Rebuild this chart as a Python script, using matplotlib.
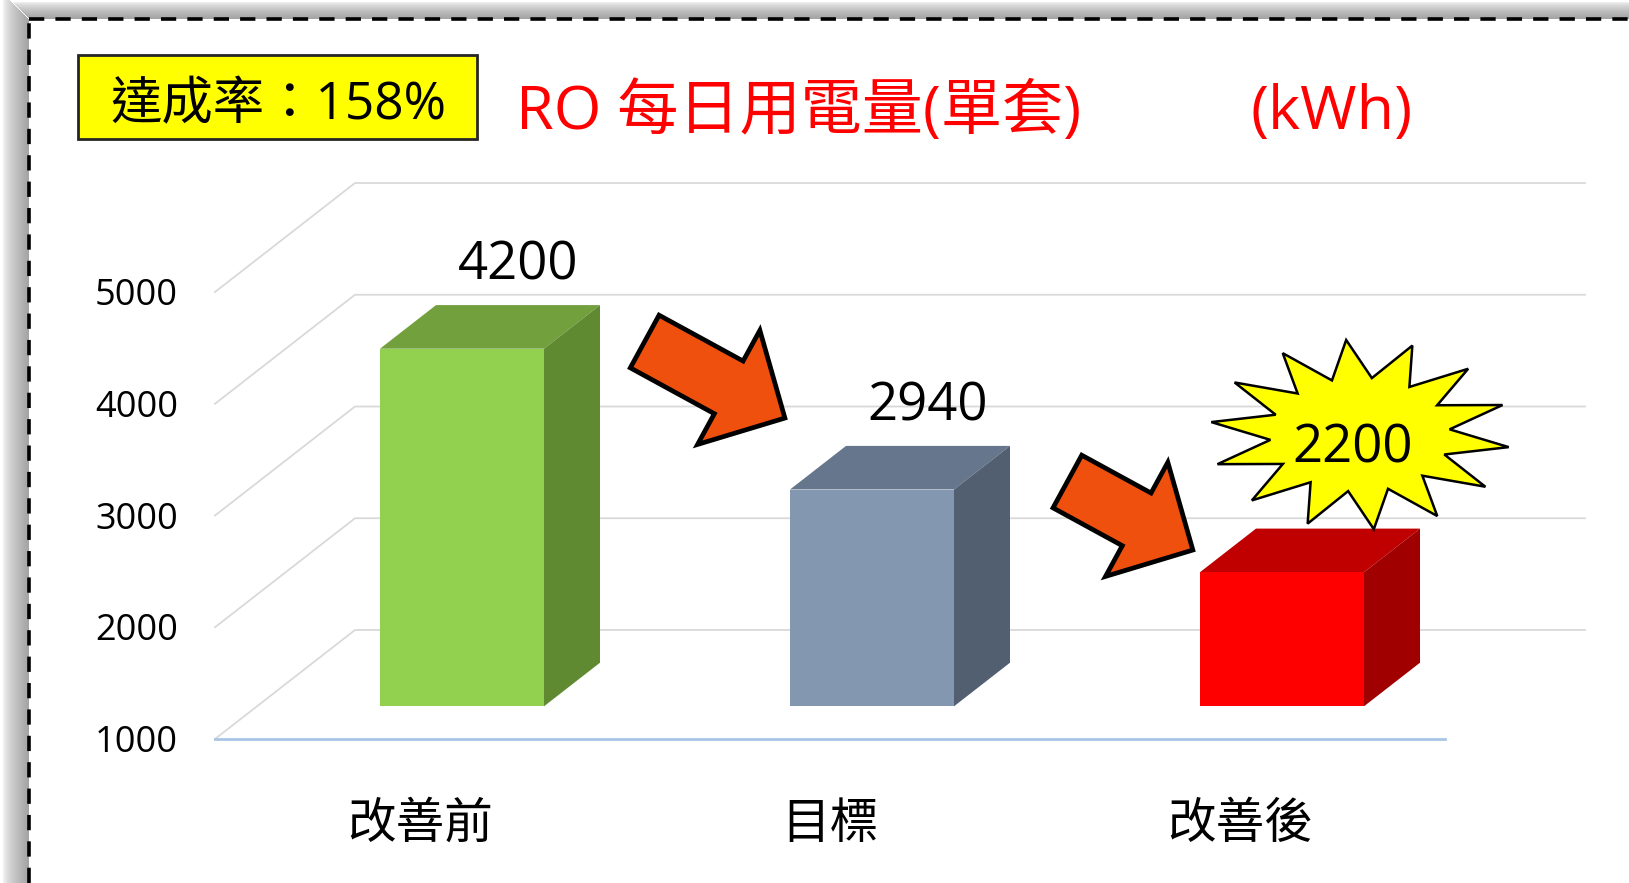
import numpy as np
import matplotlib.pyplot as plt
from matplotlib.patches import Polygon, Rectangle, FancyArrow
from matplotlib.lines import Line2D
from matplotlib.transforms import IdentityTransform

categories = ['改善前', '目標', '改善後']
values = [4200, 2940, 2200]
front_colors = ['#92D050', '#8497B0', '#FF0000']
top_colors = ['#71A03C', '#66778D', '#C00000']
side_colors = ['#5F8A32', '#525F70', '#A00000']
y_ticks = [1000, 2000, 3000, 4000, 5000]
rate_text = '達成率：158%'
title_text = 'RO 每日用電量(單套)'
unit_text = '(kWh)'
# arrows between bars (data coords: category, kWh)
arrow_tails = [(0.548, 4557), (1.579, 3304)]
arrow_tips = [(0.890, 3872), (1.885, 2691)]

W, H = 1629, 883
x0_px, cat_px = 420, 410          # category 0 on front plane, px per category
base_px, unit_px = 739, 0.11175   # y (from top) of 1000 kWh, px per kWh
depth_x = 140 / cat_px
depth_v = 109 / unit_px
d_front, d_back = 0.3, 0.7
bar_w = 0.4
y_min = 1000

cjk = 'Noto Sans CJK TC'
latin = ['Open Sans', cjk]
wt = 'medium'

fig = plt.figure(figsize=(W / 100, H / 100), dpi=100)
ax = fig.add_axes([0, 0, 1, 1])
ax.set_xlim(-x0_px / cat_px, (W - x0_px) / cat_px)
ax.set_ylim(y_min - (H - base_px) / unit_px, y_min + base_px / unit_px)
ax.axis('off')
ident = IdentityTransform()


def px(x, y_top):
    # pixel position given from the top-left corner -> display coords
    return x, H - y_top


# frame shadow + dashed border
for i in range(26):
    a = 0.65 * (1 - i / 26) ** 0.6
    fig.add_artist(Rectangle((29 - i - 1, 0), 1, H - 19 + i, transform=ident,
                             color=(0.45, 0.45, 0.45), alpha=a, lw=0, zorder=-3))
for i in range(17):
    a = 0.65 * (1 - i / 17) ** 0.6
    fig.add_artist(Rectangle((29 - i, H - 19 + i), W, 1, transform=ident,
                             color=(0.45, 0.45, 0.45), alpha=a, lw=0, zorder=-3))
fig.add_artist(Rectangle((29, 0), W, H - 19, transform=ident, color='white', lw=0, zorder=-2))
lw = 2.6
dash = (0, (11 / lw, 8 / lw))
fig.add_artist(Line2D([29, 29], [0, H - 19], transform=ident, color='black', lw=lw,
                      linestyle=dash, zorder=10))
fig.add_artist(Line2D([29, W], [H - 19, H - 19], transform=ident, color='black', lw=lw,
                      linestyle=dash, zorder=10))

# walls / gridlines
left, right = -0.5, len(categories) - 0.5
for t in y_ticks:
    ax.plot([left, left + depth_x, right + depth_x], [t, t + depth_v, t + depth_v],
            color='#D9D9D9', lw=1.3, zorder=1)
    ax.text(left - 0.09, t - 36, f'{t}', ha='right', va='center', fontsize=26,
            family=latin, fontweight=wt)
ax.plot([left, right], [y_min, y_min], color='#A9C5E6', lw=2, zorder=2)

# bars
x = np.arange(len(categories))
xf = x + d_front * depth_x
bottom = y_min + d_front * depth_v
ax.bar(xf, np.array(values) - y_min, width=bar_w, bottom=bottom, color=front_colors, zorder=4)
dx = (d_back - d_front) * depth_x
dv = (d_back - d_front) * depth_v
for i, v in enumerate(values):
    top = v + d_front * depth_v
    xl, xr = xf[i] - bar_w / 2, xf[i] + bar_w / 2
    ax.add_patch(Polygon([(xl, top), (xr, top), (xr + dx, top + dv), (xl + dx, top + dv)],
                         closed=True, color=top_colors[i], lw=0, zorder=3))
    ax.add_patch(Polygon([(xr, bottom), (xr, top), (xr + dx, top + dv), (xr + dx, bottom + dv)],
                         closed=True, color=side_colors[i], lw=0, zorder=3))

for i in range(len(categories)):
    ax.text(x[i], y_min - 85 / unit_px, categories[i], ha='center', va='center',
            fontsize=35, family=cjk, fontweight=wt)

# value labels
for i in range(2):
    ax.annotate(f'{values[i]}', (x[i] + d_back * depth_x, values[i] + d_back * depth_v),
                xytext=(0, 28), textcoords='offset points', ha='center', va='center',
                fontsize=38, family=latin, fontweight=wt, zorder=6)

# starburst label for the last bar
fig.canvas.draw()
p = ax.transData.transform((x[2] + d_back * depth_x, values[2] + d_back * depth_v))
lab = (p[0] + 15, p[1] + 80)
cx, cy = lab[0] + 7, lab[1] + 14
n = 14
ang = np.deg2rad(121) - np.arange(2 * n) * np.pi / n
rx = np.where(np.arange(2 * n) % 2 == 0, 150, 90)
ry = np.where(np.arange(2 * n) % 2 == 0, 95, 57)
star = np.column_stack([cx + rx * np.cos(ang), cy + ry * np.sin(ang)])
fig.add_artist(Polygon(star, closed=True, transform=ident,
                       facecolor='#FFFF00', edgecolor='black', lw=1.8, zorder=5))
fig.text(lab[0] / W, lab[1] / H, f'{values[2]}', ha='center', va='center',
         fontsize=38, family=latin, fontweight=wt, zorder=6)

# arrows
for (tx, tv), (hx, hv) in zip(arrow_tails, arrow_tips):
    a = ax.transData.transform((tx, tv))
    b = ax.transData.transform((hx, hv))
    fig.add_artist(FancyArrow(a[0], a[1], b[0] - a[0], b[1] - a[1], width=60, head_width=130,
                              head_length=64, length_includes_head=True,
                              transform=ident, facecolor='#F0500E',
                              edgecolor='black', lw=3.4, joinstyle='miter', zorder=5))

# rate box + title
bx, by = px(78, 139)
fig.add_artist(Rectangle((bx, by), 399, 84, transform=ident,
                         facecolor='#FFFF00', edgecolor='#262626', lw=2, zorder=5))
fig.text(278 / W, (H - 119) / H, rate_text, ha='center', va='baseline', fontsize=37,
         family=latin, fontweight=wt, zorder=6)
fig.text(516 / W, (H - 129) / H, title_text, ha='left', va='baseline', fontsize=44,
         family=latin, fontweight=wt, color='#FF0000')
fig.text(1332 / W, (H - 129) / H, unit_text, ha='center', va='baseline', fontsize=44,
         family=latin, fontweight=wt, color='#FF0000')

fig.savefig('out.png', dpi=100)
